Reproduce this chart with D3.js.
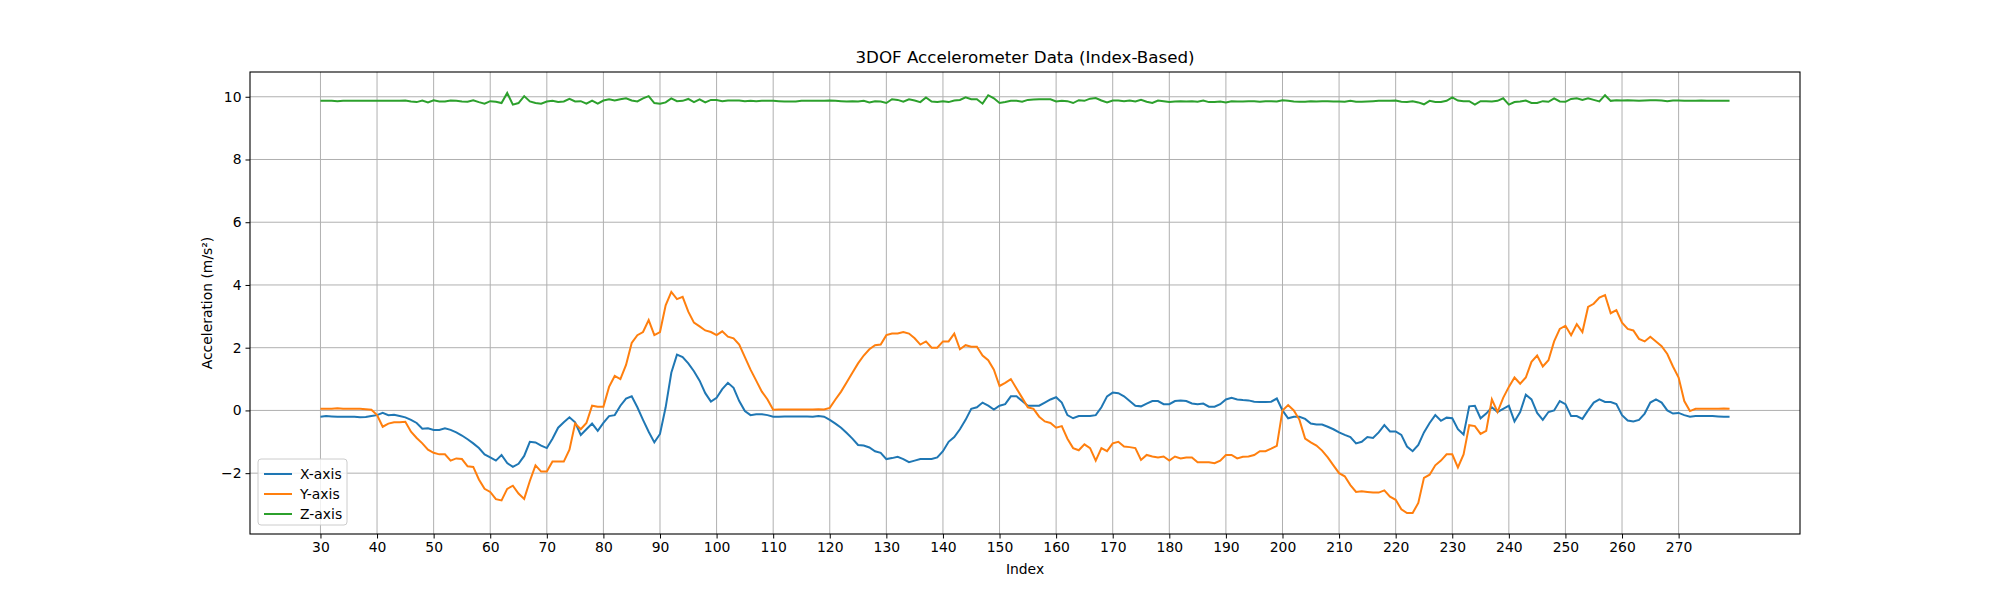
<!DOCTYPE html>
<html>
<head>
<meta charset="utf-8">
<title>3DOF Accelerometer Data</title>
<style>
  body { margin: 0; background: #fff; }
  text { font-family: "DejaVu Sans", sans-serif; }
</style>
</head>
<body>
<svg></svg>
<script src="https://d3js.org/d3.v7.min.js"></script>
<script>
// data, one value per index starting at 30
const startIndex = 30;
const xAxisVals = [
  -0.2,-0.18,-0.19,-0.2,-0.2,-0.2,-0.2,-0.22,-0.21,-0.18,
  -0.15,-0.08,-0.15,-0.14,-0.18,-0.22,-0.3,-0.4,-0.58,-0.57,
  -0.62,-0.62,-0.57,-0.62,-0.7,-0.8,-0.92,-1.05,-1.2,-1.4,
  -1.5,-1.6,-1.42,-1.68,-1.8,-1.7,-1.45,-1.0,-1.02,-1.12,
  -1.2,-0.9,-0.55,-0.38,-0.22,-0.38,-0.78,-0.6,-0.42,-0.65,
  -0.4,-0.18,-0.15,0.15,0.38,0.45,0.1,-0.3,-0.68,-1.02,
  -0.75,0.1,1.2,1.78,1.7,1.5,1.25,0.95,0.55,0.28,
  0.4,0.68,0.88,0.72,0.3,-0.02,-0.15,-0.12,-0.12,-0.15,
  -0.2,-0.2,-0.19,-0.19,-0.19,-0.19,-0.19,-0.2,-0.18,-0.2,
  -0.3,-0.42,-0.55,-0.72,-0.9,-1.1,-1.12,-1.18,-1.3,-1.35,
  -1.55,-1.52,-1.48,-1.55,-1.65,-1.6,-1.55,-1.55,-1.55,-1.5,
  -1.3,-1.0,-0.85,-0.6,-0.3,0.05,0.1,0.25,0.15,0.03,
  0.15,0.2,0.45,0.45,0.3,0.15,0.15,0.15,0.25,0.35,
  0.42,0.25,-0.15,-0.25,-0.18,-0.18,-0.18,-0.15,0.1,0.45,
  0.57,0.55,0.45,0.3,0.15,0.13,0.22,0.3,0.3,0.2,
  0.2,0.3,0.32,0.3,0.22,0.2,0.22,0.12,0.12,0.2,
  0.35,0.4,0.35,0.33,0.32,0.28,0.27,0.27,0.28,0.38,
  0.0,-0.25,-0.2,-0.2,-0.27,-0.42,-0.45,-0.45,-0.52,-0.6,
  -0.7,-0.78,-0.85,-1.05,-1.0,-0.85,-0.88,-0.7,-0.47,-0.67,
  -0.67,-0.78,-1.15,-1.3,-1.1,-0.7,-0.4,-0.15,-0.33,-0.23,
  -0.25,-0.6,-0.77,0.13,0.15,-0.25,-0.1,0.1,-0.05,0.05,
  0.15,-0.35,-0.05,0.5,0.35,-0.08,-0.3,-0.05,0.0,0.3,
  0.2,-0.18,-0.18,-0.27,0.0,0.25,0.35,0.27,0.27,0.2,
  -0.15,-0.32,-0.35,-0.3,-0.1,0.25,0.35,0.25,0.0,-0.1,
  -0.08,-0.15,-0.2,-0.18,-0.18,-0.18,-0.18,-0.19,-0.2,-0.2
];
const yAxisVals = [
  0.05,0.05,0.05,0.07,0.05,0.05,0.05,0.05,0.04,0.02,
  -0.15,-0.52,-0.42,-0.38,-0.38,-0.36,-0.68,-0.88,-1.05,-1.25,
  -1.35,-1.4,-1.4,-1.6,-1.53,-1.55,-1.78,-1.8,-2.2,-2.5,
  -2.6,-2.83,-2.87,-2.5,-2.4,-2.65,-2.82,-2.25,-1.75,-1.95,
  -1.95,-1.63,-1.63,-1.63,-1.25,-0.42,-0.6,-0.4,0.15,0.12,
  0.12,0.75,1.1,1.0,1.45,2.15,2.4,2.5,2.88,2.4,
  2.5,3.35,3.78,3.55,3.62,3.15,2.8,2.68,2.55,2.5,
  2.4,2.52,2.35,2.3,2.1,1.7,1.3,0.95,0.6,0.35,
  0.02,0.03,0.03,0.03,0.03,0.03,0.03,0.03,0.04,0.03,
  0.08,0.35,0.6,0.9,1.2,1.5,1.75,1.95,2.08,2.1,
  2.4,2.45,2.45,2.5,2.45,2.3,2.1,2.2,2.0,2.0,
  2.2,2.2,2.45,1.95,2.08,2.03,2.03,1.75,1.6,1.3,
  0.78,0.88,1.0,0.7,0.4,0.1,0.05,-0.2,-0.35,-0.4,
  -0.55,-0.5,-0.9,-1.2,-1.27,-1.08,-1.2,-1.6,-1.2,-1.3,
  -1.05,-1.0,-1.15,-1.17,-1.2,-1.58,-1.42,-1.47,-1.5,-1.47,
  -1.6,-1.47,-1.53,-1.5,-1.5,-1.65,-1.65,-1.65,-1.68,-1.6,
  -1.42,-1.42,-1.53,-1.48,-1.47,-1.42,-1.3,-1.3,-1.22,-1.13,
  0.0,0.17,0.0,-0.3,-0.9,-1.02,-1.12,-1.28,-1.5,-1.75,
  -2.0,-2.1,-2.38,-2.6,-2.58,-2.6,-2.62,-2.62,-2.55,-2.75,
  -2.85,-3.15,-3.27,-3.27,-2.95,-2.15,-2.05,-1.75,-1.6,-1.4,
  -1.4,-1.82,-1.4,-0.47,-0.5,-0.75,-0.65,0.35,-0.05,0.4,
  0.75,1.05,0.85,1.05,1.55,1.75,1.4,1.6,2.2,2.6,
  2.7,2.4,2.75,2.5,3.3,3.4,3.6,3.68,3.1,3.2,
  2.8,2.6,2.55,2.28,2.2,2.35,2.2,2.05,1.8,1.4,
  1.05,0.3,-0.02,0.05,0.05,0.05,0.05,0.05,0.06,0.05
];
const zAxisVals = [
  9.87,9.87,9.87,9.86,9.87,9.87,9.87,9.87,9.87,9.87,
  9.87,9.87,9.87,9.87,9.87,9.88,9.85,9.83,9.88,9.82,
  9.89,9.85,9.85,9.88,9.87,9.85,9.84,9.89,9.83,9.78,
  9.86,9.84,9.8,10.12,9.75,9.8,10.02,9.85,9.8,9.78,
  9.85,9.87,9.83,9.85,9.93,9.85,9.86,9.78,9.88,9.78,
  9.88,9.92,9.88,9.92,9.95,9.88,9.85,9.95,10.02,9.8,
  9.78,9.82,9.95,9.86,9.87,9.93,9.83,9.92,9.82,9.9,
  9.9,9.86,9.88,9.88,9.88,9.86,9.87,9.86,9.87,9.87,
  9.87,9.86,9.85,9.85,9.85,9.87,9.87,9.87,9.87,9.87,
  9.88,9.87,9.86,9.85,9.86,9.85,9.87,9.82,9.86,9.85,
  9.8,9.92,9.9,9.84,9.92,9.88,9.83,9.98,9.85,9.83,
  9.86,9.83,9.88,9.9,9.98,9.92,9.92,9.78,10.05,9.95,
  9.8,9.83,9.87,9.87,9.84,9.9,9.91,9.92,9.92,9.92,
  9.85,9.87,9.86,9.8,9.89,9.87,9.94,9.96,9.88,9.82,
  9.88,9.88,9.86,9.88,9.85,9.9,9.84,9.8,9.88,9.86,
  9.83,9.85,9.86,9.85,9.86,9.84,9.88,9.83,9.83,9.85,
  9.82,9.86,9.85,9.85,9.86,9.86,9.84,9.86,9.86,9.85,
  9.89,9.87,9.85,9.84,9.84,9.86,9.85,9.86,9.86,9.85,
  9.85,9.84,9.87,9.84,9.84,9.85,9.86,9.87,9.87,9.87,
  9.88,9.84,9.83,9.86,9.82,9.76,9.87,9.83,9.83,9.87,
  9.98,9.88,9.86,9.86,9.75,9.86,9.86,9.85,9.87,9.95,
  9.75,9.83,9.85,9.88,9.8,9.8,9.86,9.84,9.95,9.85,
  9.84,9.93,9.95,9.9,9.95,9.9,9.85,10.05,9.87,9.89,
  9.88,9.89,9.88,9.87,9.88,9.89,9.89,9.88,9.86,9.88,
  9.88,9.87,9.87,9.87,9.88,9.87,9.87,9.87,9.87,9.87
];
const seriesNames = ["X-axis", "Y-axis", "Z-axis"];
const seriesColors = ["#1f77b4", "#ff7f0e", "#2ca02c"];
const xTicks = d3.range(30, 271, 10);
const yTicks = [-2, 0, 2, 4, 6, 8, 10];

let width = 2000, height = 600;
let margin = {left: 250, right: 200, top: 72, bottom: 66};
let svg = d3.select("svg").attr("width", width).attr("height", height);

let indices = xAxisVals.map((d, i) => startIndex + i);
let allSeries = [xAxisVals, yAxisVals, zAxisVals];

// matplotlib style 5% padding on both axes
let xmin = d3.min(indices), xmax = d3.max(indices);
let xpad = (xmax - xmin) * 0.05;
let allVals = allSeries.flat();
let ymin = d3.min(allVals), ymax = d3.max(allVals);
let ypad = (ymax - ymin) * 0.05;

let x = d3.scaleLinear().domain([xmin - xpad, xmax + xpad]).range([margin.left, width - margin.right]);
let y = d3.scaleLinear().domain([ymin - ypad, ymax + ypad]).range([height - margin.bottom, margin.top]);

// grid
let grid = svg.append("g");
grid.selectAll(".gx").data(xTicks).enter().append("line")
  .attr("x1", d => x(d)).attr("x2", d => x(d))
  .attr("y1", margin.top).attr("y2", height - margin.bottom)
  .attr("stroke", "#b0b0b0").attr("stroke-width", 1);
grid.selectAll(".gy").data(yTicks).enter().append("line")
  .attr("x1", margin.left).attr("x2", width - margin.right)
  .attr("y1", d => y(d)).attr("y2", d => y(d))
  .attr("stroke", "#b0b0b0").attr("stroke-width", 1);

// lines
let line = d3.line().x((d, i) => x(indices[i])).y(d => y(d));
allSeries.forEach((s, k) => {
  svg.append("path").datum(s)
    .attr("d", line)
    .attr("fill", "none")
    .attr("stroke", seriesColors[k])
    .attr("stroke-width", 2);
});

// axes
let xAxis = svg.append("g")
  .attr("transform", "translate(0," + (height - margin.bottom) + ")")
  .call(d3.axisBottom(x).tickValues(xTicks).tickSize(4.5).tickPadding(4));
let yAxis = svg.append("g")
  .attr("transform", "translate(" + margin.left + ",0)")
  .call(d3.axisLeft(y).tickValues(yTicks).tickSize(4.5).tickPadding(4)
    .tickFormat(d => d < 0 ? "\u2212" + Math.abs(d) : d));
[xAxis, yAxis].forEach(a => {
  a.select(".domain").remove();
  a.selectAll("text").attr("font-size", 13.9).attr("fill", "#000")
    .attr("font-family", "DejaVu Sans");
  a.selectAll("line").attr("stroke", "#000");
});

// frame
svg.append("rect")
  .attr("x", margin.left).attr("y", margin.top)
  .attr("width", width - margin.left - margin.right)
  .attr("height", height - margin.top - margin.bottom)
  .attr("fill", "none").attr("stroke", "#000").attr("stroke-width", 1.1);

// titles
svg.append("text").attr("x", (margin.left + width - margin.right) / 2).attr("y", 63)
  .attr("text-anchor", "middle").attr("font-size", 16.7).text("3DOF Accelerometer Data (Index-Based)");
svg.append("text").attr("x", (margin.left + width - margin.right) / 2).attr("y", 574)
  .attr("text-anchor", "middle").attr("font-size", 13.9).text("Index");
svg.append("text")
  .attr("transform", "translate(212," + ((margin.top + height - margin.bottom) / 2) + ") rotate(-90)")
  .attr("text-anchor", "middle").attr("font-size", 13.9).text("Acceleration (m/s\u00b2)");

// legend
let lg = svg.append("g").attr("transform", "translate(258,459)");
lg.append("rect").attr("width", 89).attr("height", 66).attr("rx", 3)
  .attr("fill", "#fff").attr("fill-opacity", 0.8).attr("stroke", "#ccc");
seriesNames.forEach((n, i) => {
  let gy = 15 + i * 20;
  lg.append("line").attr("x1", 6).attr("x2", 34).attr("y1", gy).attr("y2", gy)
    .attr("stroke", seriesColors[i]).attr("stroke-width", 2);
  lg.append("text").attr("x", 42).attr("y", gy + 5).attr("font-size", 13.9).text(n);
});
</script>
</body>
</html>
